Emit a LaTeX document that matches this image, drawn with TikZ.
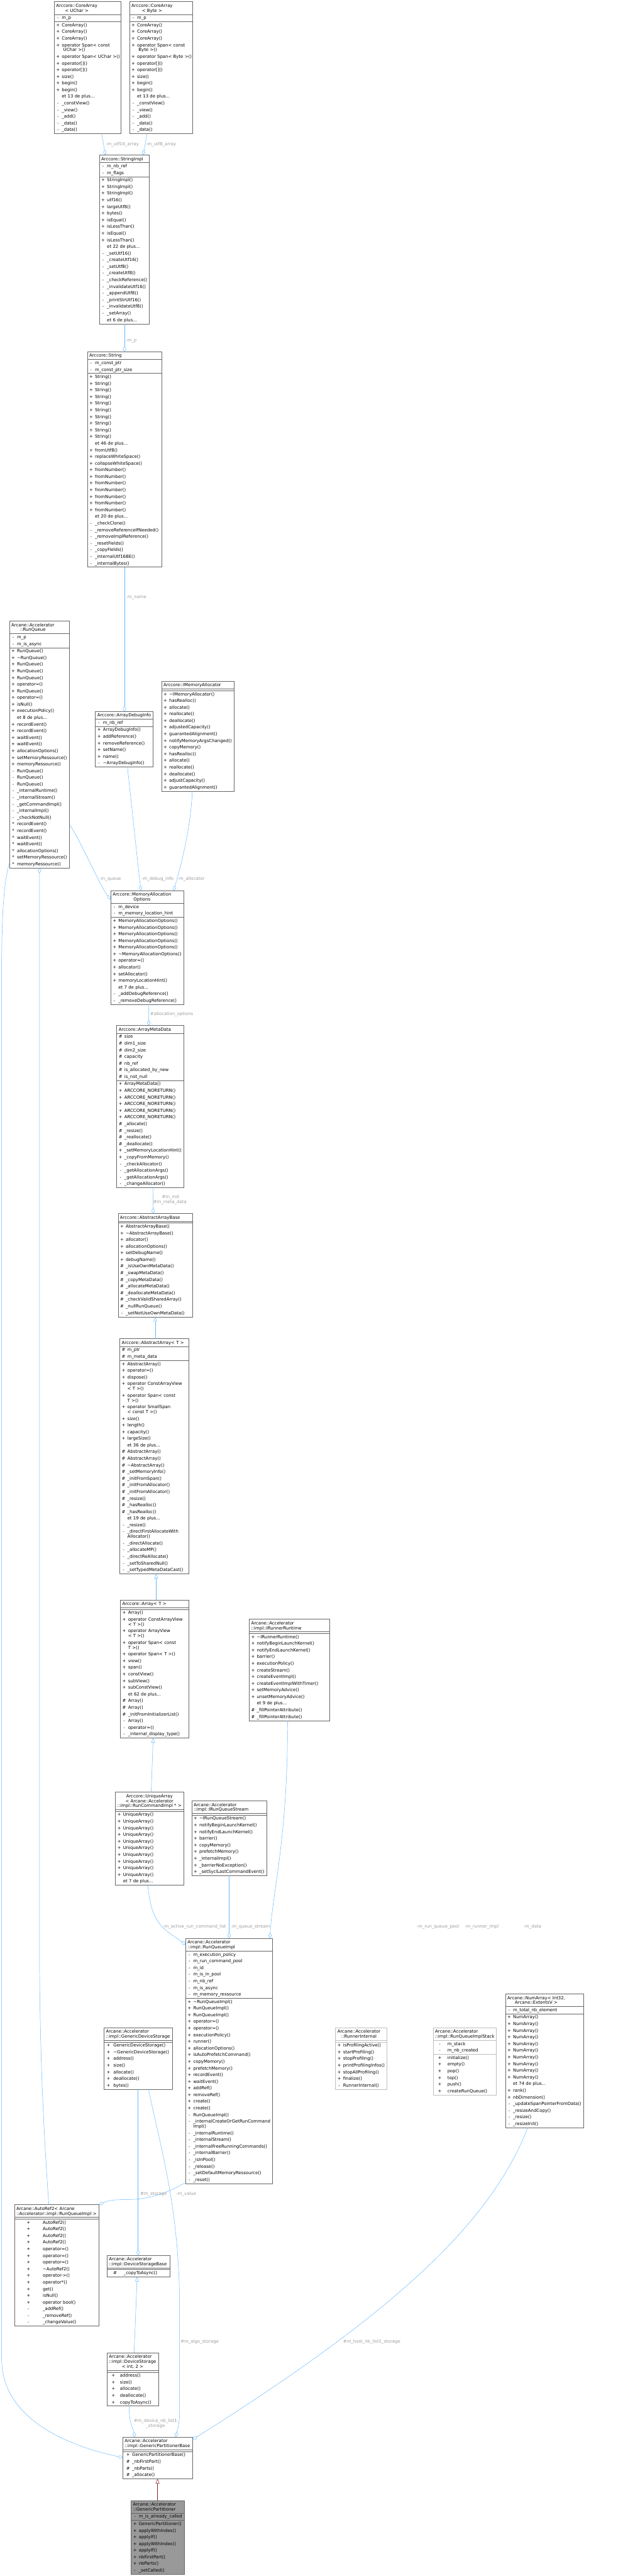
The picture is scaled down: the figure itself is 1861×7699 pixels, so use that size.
\documentclass[tikz,border=0pt]{standalone}
\usepackage{fontspec}
\setmainfont{DejaVu Sans}
\usepackage{array}
\usetikzlibrary{shapes.multipart,arrows.meta,calc}

\definecolor{edgeblue}{HTML}{63B8FF}
\definecolor{edgered}{HTML}{8B1A1A}
\definecolor{boxgray}{HTML}{666666}
\definecolor{lightbox}{HTML}{BFBFBF}
\definecolor{lblgray}{HTML}{9A9A9A}
\definecolor{focusfill}{HTML}{999999}

\newcommand\umlfont{\fontsize{13}{19.9}\selectfont}
\newcommand\tl{\textasciitilde}
\newcommand\br{\\[-5.2pt]}
% title block (c = centred lines, l = left block)
\newcommand\umltitle[2][c]{\centering\begin{tabular}{@{}#1@{}}\rule{0pt}{15.5pt}#2\end{tabular}}
\newcommand\umlrows[2][0pt]{\begin{tabular}{@{\hspace{#1}}w{c}{11pt}@{\hspace{6pt}}l@{}}#2\end{tabular}}
\newcommand\umlrowsw[3]{\begin{tabular}{@{\hspace{#1}}w{c}{11pt}@{\hspace{#2}}l@{}}#3\end{tabular}}
\newcommand\umlnone{\begin{tabular}{@{}l@{}}\end{tabular}}

\tikzset{
  umlclass/.style={rectangle split, rectangle split parts=3, draw=boxgray,
    line width=0.8pt, fill=white, anchor=north west, inner xsep=6pt,
    inner ysep=0.5pt, outer sep=0pt, align=left, font=\umlfont},
  uses/.style={draw=edgeblue, line width=0.9pt,
    -{Diamond[open, length=16pt, width=10pt]}},
  inh/.style={draw=edgeblue, line width=0.9pt,
    -{Triangle[open, length=14pt, width=11pt]}},
  privinh/.style={inh, draw=edgered},
  elabel/.style={font=\umlfont, text=lblgray, inner sep=0pt, anchor=west},
}

\begin{document}
\begin{tikzpicture}[x=1pt, y=-1pt]
\useasboundingbox (0,0) rectangle (1861,7699);

% ---- strings
\node[umlclass, text width=188pt] (caUChar) at (162,5) {\umltitle{Arccore::CoreArray\br < UChar >}
  \nodepart{two}\umlrows{- & m\_p}
  \nodepart{three}\umlrows{+ & CoreArray()\\ + & CoreArray()\\ + & CoreArray()\\
    + & operator Span< const\br & \ UChar >()\\ + & operator Span< UChar >()\\
    + & operator[]()\\ + & operator[]()\\ + & size()\\ + & begin()\\ + & begin()\\
    & et 13 de plus...\\ - & \_constView()\\ - & \_view()\\ - & \_add()\\
    - & \_data()\\ - & \_data()}};
\node[umlclass, text width=177pt] (caByte) at (387,5) {\umltitle{Arccore::CoreArray\br < Byte >}
  \nodepart{two}\umlrows{- & m\_p}
  \nodepart{three}\umlrows{+ & CoreArray()\\ + & CoreArray()\\ + & CoreArray()\\
    + & operator Span< const\br & \ Byte >()\\ + & operator Span< Byte >()\\
    + & operator[]()\\ + & operator[]()\\ + & size()\\ + & begin()\\ + & begin()\\
    & et 13 de plus...\\ - & \_constView()\\ - & \_view()\\ - & \_add()\\
    - & \_data()\\ - & \_data()}};
\node[umlclass, text width=137pt] (strImpl) at (297,463) {\umltitle{Arccore::StringImpl}
  \nodepart{two}\umlrows{- & m\_nb\_ref\\ - & m\_flags}
  \nodepart{three}\umlrows{+ & StringImpl()\\ + & StringImpl()\\ + & StringImpl()\\
    + & utf16()\\ + & largeUtf8()\\ + & bytes()\\ + & isEqual()\\ + & isLessThan()\\
    + & isEqual()\\ + & isLessThan()\\ & et 22 de plus...\\
    - & \_setUtf16()\\ - & \_createUtf16()\\ - & \_setUtf8()\\ - & \_createUtf8()\\
    - & \_checkReference()\\ - & \_invalidateUtf16()\\ - & \_appendUtf8()\\
    - & \_printStrUtf16()\\ - & \_invalidateUtf8()\\ - & \_setArray()\\
    & et 6 de plus...}};
\node[umlclass, text width=210pt] (string) at (261,1051) {\umltitle{Arccore::String}
  \nodepart{two}\umlrows{- & m\_const\_ptr\\ - & m\_const\_ptr\_size}
  \nodepart{three}\umlrows{+ & String()\\ + & String()\\ + & String()\\ + & String()\\
    + & String()\\ + & String()\\ + & String()\\ + & String()\\ + & String()\\
    + & String()\\ & et 46 de plus...\\ + & fromUtf8()\\ + & replaceWhiteSpace()\\
    + & collapseWhiteSpace()\\ + & fromNumber()\\ + & fromNumber()\\ + & fromNumber()\\
    + & fromNumber()\\ + & fromNumber()\\ + & fromNumber()\\ + & fromNumber()\\
    & et 20 de plus...\\ - & \_checkClone()\\ - & \_removeReferenceIfNeeded()\\
    - & \_removeImplReference()\\ - & \_resetFields()\\ - & \_copyFields()\\
    - & \_internalUtf16BE()\\ - & \_internalBytes()}};

% ---- run queue and allocation
\node[umlclass, text width=168pt] (runQueue) at (28,1856) {\umltitle{Arcane::Accelerator\br ::RunQueue}
  \nodepart{two}\umlrows{- & m\_p\\ - & m\_is\_async}
  \nodepart{three}\umlrows{+ & RunQueue()\\ + & \tl RunQueue()\\ + & RunQueue()\\
    + & RunQueue()\\ + & RunQueue()\\ + & operator=()\\ + & RunQueue()\\
    + & operator=()\\ + & isNull()\\ + & executionPolicy()\\ & et 8 de plus...\\
    + & recordEvent()\\ + & recordEvent()\\ + & waitEvent()\\ + & waitEvent()\\
    + & allocationOptions()\\ + & setMemoryRessource()\\ + & memoryRessource()\\
    - & RunQueue()\\ - & RunQueue()\\ - & RunQueue()\\ - & \_internalRuntime()\\
    - & \_internalStream()\\ - & \_getCommandImpl()\\ - & \_internalImpl()\\
    - & \_checkNotNull()\\ {*} & recordEvent()\\ {*} & recordEvent()\\
    {*} & waitEvent()\\ {*} & waitEvent()\\ {*} & allocationOptions()\\
    {*} & setMemoryRessource()\\ {*} & memoryRessource()}};
\node[umlclass, text width=161pt] (adi) at (285,2126) {\umltitle{Arccore::ArrayDebugInfo}
  \nodepart{two}\umlrows{- & m\_nb\_ref}
  \nodepart{three}\umlrows{+ & ArrayDebugInfo()\\ + & addReference()\\ + & removeReference()\\
    + & setName()\\ + & name()\\ - & \tl ArrayDebugInfo()}};
\node[umlclass, text width=204pt] (imalloc) at (483,2036) {\umltitle{Arccore::IMemoryAllocator}
  \nodepart{two}\umlnone
  \nodepart{three}\umlrows{+ & \tl IMemoryAllocator()\\ + & hasRealloc()\\ + & allocate()\\
    + & reallocate()\\ + & deallocate()\\ + & adjustedCapacity()\\
    + & guarantedAlignment()\\ + & notifyMemoryArgsChanged()\\ + & copyMemory()\\
    + & hasRealloc()\\ + & allocate()\\ + & reallocate()\\ + & deallocate()\\
    + & adjustCapacity()\\ + & guarantedAlignment()}};
\node[umlclass, text width=207pt] (mao) at (331,2662) {\umltitle{Arccore::MemoryAllocation\br Options}
  \nodepart{two}\umlrows{- & m\_device\\ - & m\_memory\_location\_hint}
  \nodepart{three}\umlrows{+ & MemoryAllocationOptions()\\ + & MemoryAllocationOptions()\\
    + & MemoryAllocationOptions()\\ + & MemoryAllocationOptions()\\
    + & MemoryAllocationOptions()\\ + & \tl MemoryAllocationOptions()\\
    + & operator=()\\ + & allocator()\\ + & setAllocator()\\ + & memoryLocationHint()\\
    & et 7 de plus...\\ - & \_addDebugReference()\\ - & \_removeDebugReference()}};

% ---- arrays
\node[umlclass, text width=189pt] (amd) at (349,3065) {\umltitle{Arccore::ArrayMetaData}
  \nodepart{two}\umlrows{\# & size\\ \# & dim1\_size\\ \# & dim2\_size\\ \# & capacity\\
    \# & nb\_ref\\ \# & is\_allocated\_by\_new\\ \# & is\_not\_null}
  \nodepart{three}\umlrows{+ & ArrayMetaData()\\ + & ARCCORE\_NORETURN()\\
    + & ARCCORE\_NORETURN()\\ + & ARCCORE\_NORETURN()\\ + & ARCCORE\_NORETURN()\\
    + & ARCCORE\_NORETURN()\\ \# & \_allocate()\\ \# & \_resize()\\
    \# & \_reallocate()\\ \# & \_deallocate()\\ + & \_setMemoryLocationHint()\\
    + & \_copyFromMemory()\\ - & \_checkAllocator()\\ - & \_getAllocationArgs()\\
    - & \_getAllocationArgs()\\ - & \_changeAllocator()}};
\node[umlclass, text width=210pt] (aab) at (353,3627) {\umltitle{Arccore::AbstractArrayBase}
  \nodepart{two}\umlnone
  \nodepart{three}\umlrows{+ & AbstractArrayBase()\\ + & \tl AbstractArrayBase()\\
    + & allocator()\\ + & allocationOptions()\\ + & setDebugName()\\ + & debugName()\\
    \# & \_isUseOwnMetaData()\\ \# & \_swapMetaData()\\ \# & \_copyMetaData()\\
    \# & \_allocateMetaData()\\ \# & \_deallocateMetaData()\\
    \# & \_checkValidSharedArray()\\ \# & \_nullRunQueue()\\
    - & \_setNotUseOwnMetaData()}};
\node[umlclass, text width=194pt] (aa) at (358,4001) {\umltitle{Arccore::AbstractArray< T >}
  \nodepart{two}\umlrows{\# & m\_ptr\\ \# & m\_meta\_data}
  \nodepart{three}\umlrows{+ & AbstractArray()\\ + & operator=()\\ + & dispose()\\
    + & operator ConstArrayView\br & < T >()\\ + & operator Span< const\br & T >()\\
    + & operator SmallSpan\br & < const T >()\\ + & size()\\ + & length()\\
    + & capacity()\\ + & largeSize()\\ & et 36 de plus...\\
    \# & AbstractArray()\\ \# & AbstractArray()\\ \# & \tl AbstractArray()\\
    \# & \_setMemoryInfo()\\ \# & \_initFromSpan()\\ \# & \_initFromAllocator()\\
    \# & \_initFromAllocator()\\ \# & \_resize()\\ \# & \_hasRealloc()\\
    \# & \_hasRealloc()\\ & et 19 de plus...\\ - & \_resize()\\
    - & \_directFirstAllocateWith\br & Allocator()\\ - & \_directAllocate()\\
    - & \_allocateMP()\\ - & \_directReAllocate()\\ - & \_setToSharedNull()\\
    - & \_setTypedMetaDataCast()}};
\node[umlclass, text width=192pt] (arr) at (360,4782) {\umltitle{Arccore::Array< T >}
  \nodepart{two}\umlnone
  \nodepart{three}\umlrows{+ & Array()\\ + & operator ConstArrayView\br & < T >()\\
    + & operator ArrayView\br & < T >()\\ + & operator Span< const\br & T >()\\
    + & operator Span< T >()\\ + & view()\\ + & span()\\ + & constView()\\
    + & subView()\\ + & subConstView()\\ & et 62 de plus...\\ \# & Array()\\
    \# & Array()\\ \# & \_initFromInitializerList()\\ - & Array()\\
    - & operator=()\\ - & \_internal\_display\_type()}};
\node[umlclass, text width=192pt] (ua) at (345,5356) {\umltitle{Arccore::UniqueArray\br < Arcane::Accelerator\br ::impl::RunCommandImpl * >}
  \nodepart{two}\umlnone
  \nodepart{three}\umlrows{+ & UniqueArray()\\ + & UniqueArray()\\ + & UniqueArray()\\
    + & UniqueArray()\\ + & UniqueArray()\\ + & UniqueArray()\\ + & UniqueArray()\\
    + & UniqueArray()\\ + & UniqueArray()\\ + & UniqueArray()\\ & et 7 de plus...}};

% ---- runtime
\node[umlclass, text width=228pt] (irr) at (745,4839) {\umltitle[l]{Arcane::Accelerator\br ::impl::IRunnerRuntime}
  \nodepart{two}\umlnone
  \nodepart{three}\umlrows{+ & \tl IRunnerRuntime()\\ + & notifyBeginLaunchKernel()\\
    + & notifyEndLaunchKernel()\\ + & barrier()\\ + & executionPolicy()\\
    + & createStream()\\ + & createEventImpl()\\ + & createEventImplWithTimer()\\
    + & setMemoryAdvice()\\ + & unsetMemoryAdvice()\\ & et 9 de plus...\\
    \# & \_fillPointerAttribute()\\ \# & \_fillPointerAttribute()}};
\node[umlclass, text width=212pt] (irqs) at (573,5382) {\umltitle[l]{Arcane::Accelerator\br ::impl::IRunQueueStream}
  \nodepart{two}\umlnone
  \nodepart{three}\umlrows{+ & \tl IRunQueueStream()\\ + & notifyBeginLaunchKernel()\\
    + & notifyEndLaunchKernel()\\ + & barrier()\\ + & copyMemory()\\
    + & prefetchMemory()\\ + & \_internalImpl()\\ + & \_barrierNoException()\\
    + & \_setSyclLastCommandEvent()}};
\node[umlclass, text width=248pt] (rqi) at (555,5793) {\umltitle[l]{Arcane::Accelerator\br ::impl::RunQueueImpl}
  \nodepart{two}\umlrows{- & m\_execution\_policy\\ - & m\_run\_command\_pool\\ - & m\_id\\
    - & m\_is\_in\_pool\\ - & m\_nb\_ref\\ - & m\_is\_async\\ - & m\_memory\_ressource}
  \nodepart{three}\umlrows{+ & \tl RunQueueImpl()\\ + & RunQueueImpl()\\ + & RunQueueImpl()\\
    + & operator=()\\ + & operator=()\\ + & executionPolicy()\\ + & runner()\\
    + & allocationOptions()\\ + & isAutoPrefetchCommand()\\ + & copyMemory()\\
    + & prefetchMemory()\\ + & recordEvent()\\ + & waitEvent()\\ + & addRef()\\
    + & removeRef()\\ + & create()\\ + & create()\\ - & RunQueueImpl()\\
    - & \_internalCreateOrGetRunCommand\br & Impl()\\ - & \_internalRuntime()\\
    - & \_internalStream()\\ - & \_internalFreeRunningCommands()\\
    - & \_internalBarrier()\\ - & \_isInPool()\\ - & \_release()\\
    - & \_setDefaultMemoryRessource()\\ - & \_reset()}};
\node[umlclass, draw=lightbox, text width=141pt] (rinternal) at (1003,6060) {\umltitle{Arcane::Accelerator\br ::RunnerInternal}
  \nodepart{two}\umlnone
  \nodepart{three}\umlrows{+ & isProfilingActive()\\ + & startProfiling()\\
    + & stopProfiling()\\ + & printProfilingInfos()\\ + & stopAllProfiling()\\
    + & finalize()\\ - & RunnerInternal()}};
\node[umlclass, draw=lightbox, text width=176pt] (rqis) at (1295,6060) {\umltitle[l]{Arcane::Accelerator\br ::impl::RunQueueImplStack}
  \nodepart{two}\umlrowsw{8.5pt}{17.5pt}{- & m\_stack\\ - & m\_nb\_created}
  \nodepart{three}\umlrowsw{8.5pt}{17.5pt}{+ & initialize()\\ + & empty()\\ + & pop()\\
    + & top()\\ + & push()\\ + & createRunQueue()}};
\node[umlclass, text width=222pt] (numarr) at (1511,5959) {\umltitle{Arcane::NumArray< Int32,\br Arcane::ExtentsV >}
  \nodepart{two}\umlrows{- & m\_total\_nb\_element}
  \nodepart{three}\umlrows{+ & NumArray()\\ + & NumArray()\\ + & NumArray()\\ + & NumArray()\\
    + & NumArray()\\ + & NumArray()\\ + & NumArray()\\ + & NumArray()\\ + & NumArray()\\
    + & NumArray()\\ & et 74 de plus...\\ + & rank()\\ + & nbDimension()\\
    - & \_updateSpanPointerFromData()\\ - & \_resizeAndCopy()\\ - & \_resize()\\
    - & \_resizeInit()}};

% ---- storages and partitioner
\node[umlclass, text width=193pt] (gds) at (311,6060) {\umltitle[l]{Arcane::Accelerator\br ::impl::GenericDeviceStorage}
  \nodepart{two}\umlnone
  \nodepart{three}\umlrowsw{2pt}{9pt}{+ & GenericDeviceStorage()\\ + & \tl GenericDeviceStorage()\\
    + & address()\\ + & size()\\ + & allocate()\\ + & deallocate()\\ + & bytes()}};
\node[umlclass, text width=241pt] (autoref) at (43,6589) {\umltitle[l]{Arcane::AutoRef2< Arcane\br ::Accelerator::impl::RunQueueImpl >}
  \nodepart{two}\umlnone
  \nodepart{three}\umlrowsw{30.5pt}{37.5pt}{+ & AutoRef2()\\ + & AutoRef2()\\ + & AutoRef2()\\
    + & AutoRef2()\\ + & operator=()\\ + & operator=()\\ + & operator=()\\
    + & \tl AutoRef2()\\ + & operator->()\\ + & operator*()\\ + & get()\\
    + & isNull()\\ + & operator bool()\\ - & \_addRef()\\ - & \_removeRef()\\
    - & \_changeValue()}};
\node[umlclass, text width=175pt] (dsb) at (320,6740) {\umltitle[l]{Arcane::Accelerator\br ::impl::DeviceStorageBase}
  \nodepart{two}\umlnone
  \nodepart{three}\umlrowsw{12.5pt}{20.5pt}{\# & \_copyToAsync()}};
\node[umlclass, text width=143pt] (ds) at (320,7032) {\umltitle[l]{Arcane::Accelerator\br ::impl::DeviceStorage\br \multicolumn{1}{@{}c@{}}{< int, 2 >}}
  \nodepart{two}\umlnone
  \nodepart{three}\umlrowsw{7.5pt}{14.5pt}{+ & address()\\ + & size()\\ + & allocate()\\
    + & deallocate()\\ + & copyToAsync()}};
\node[umlclass, text width=197pt] (gpb) at (367,7284) {\umltitle[l]{Arcane::Accelerator\br ::impl::GenericPartitionerBase}
  \nodepart{two}\umlnone
  \nodepart{three}\umlrowsw{4.5pt}{6.5pt}{+ & GenericPartitionerBase()\\ \# & \_nbFirstPart()\\
    \# & \_nbParts()\\ \# & \_allocate()}};
\node[umlclass, fill=focusfill, text width=148pt] (gp) at (392,7473) {\umltitle{Arcane::Accelerator\br ::GenericPartitioner}
  \nodepart{two}\umlrows{- & m\_is\_already\_called}
  \nodepart{three}\umlrows{+ & GenericPartitioner()\\ + & applyWithIndex()\\ + & applyIf()\\
    + & applyWithIndex()\\ + & applyIf()\\ + & nbFirstPart()\\ + & nbParts()\\
    - & \_setCalled()}};

% ---- connectors
\draw[uses] (caUChar.south -| 304,0) -- (strImpl.north -| 315,0);
\draw[uses] (caByte.south -| 440,0) -- (strImpl.north -| 428,0);
\draw[uses] (strImpl.south -| 372,0) -- (string.north -| 372,0);
\draw[uses] (string.south -| 372,0) -- (adi.north -| 372,0);
\draw[uses] (adi.south -| 381,0) -- (mao.north -| 421,0);
\draw[uses] (imalloc.south -| 575,0) .. controls (570,2480) and (540,2590) .. (mao.north -| 519,0);
\draw[uses] (runQueue.east |- 0,2464) .. controls (250,2530) and (300,2650) .. (mao.west |- 0,2688);
\draw[uses] (mao.south -| 444,0) -- (amd.north -| 445,0);
\draw[uses] (amd.south -| 457,0) -- (aab.north -| 458,0);
\draw[inh] (aa.north -| 464,0) -- (aab.south -| 464,0);
\draw[inh] (arr.north -| 467,0) -- (aa.south -| 467,0);
\draw[inh] (ua.north -| 452,0) -- (arr.south -| 458,0);
\draw[uses] (ua.south -| 442,0) .. controls (452,5760) and (500,5770) .. (rqi.west |- 0,5812);
\draw[uses] (irqs.south -| 685,0) -- (rqi.north -| 685,0);
\draw[uses] (irr.south -| 860,0) .. controls (860,5500) and (815,5650) .. (rqi.north -| 807,0);
\draw[uses] (rqi.west |- 0,6523) .. controls (420,6600) and (360,6560) .. (autoref.north east);
\draw[uses] (autoref.north -| 146,0) .. controls (125,6300) and (118,6050) .. (118,5800) -- (runQueue.south -| 118,0);
\draw[uses] (gds.south -| 413,0) -- (dsb.north -| 413,0);
\draw[inh] (ds.north -| 401,0) -- (dsb.south -| 410,0);
\draw[uses] (gds.south -| 444,0) .. controls (480,6420) and (537,6600) .. (537,6900) -- (537,7200) .. controls (537,7250) and (530,7262) .. (gpb.north -| 525,0);
\draw[uses] (ds.south -| 386,0) .. controls (386,7250) and (400,7260) .. (gpb.north -| 402,0);
\draw[uses] (runQueue.west |- 0,2580) .. controls (10,2640) and (5,2750) .. (5,2900) -- (5,7050) .. controls (5,7250) and (250,7320) .. (gpb.west |- 0,7345);
\draw[uses] (numarr.south -| 1578,0) .. controls (1468,6642) and (1183,6909) .. (gpb.east |- 0,7291);
\draw[privinh] (gp.north -| 471,0) -- (gpb.south -| 471,0);

% ---- connector labels
\node[elabel] (lUtf16) at (316,431) {-m\_utf16\_array};
\node[elabel] (lUtf8) at (436,431) {-m\_utf8\_array};
\node[elabel] (lStrP) at (376,1019) {-m\_p};
\node[elabel] (lName) at (377,1786) {-m\_name};
\node[elabel] (lQueue) at (297,2628) {-m\_queue};
\node[elabel] (lDebug) at (423,2628) {-m\_debug\_info};
\node[elabel] (lAlloc) at (531,2628) {-m\_allocator};
\node[elabel] (lAllocOpt) at (449,3031) {\#allocation\_options};
\node[elabel] (lMd) at (484,3579) {\#m\_md};
\node[elabel] (lMetaData) at (458,3594) {\#m\_meta\_data};
\node[elabel] (lActive) at (487,5759) {-m\_active\_run\_command\_list};
\node[elabel] (lStream) at (690,5759) {-m\_queue\_stream};
\node[elabel, anchor=east] (lPool) at (1373,5759) {-m\_run\_queue\_pool};
\node[elabel] (lRunnerImpl) at (1389,5759) {-m\_runner\_impl};
\node[elabel] (lData) at (1565,5759) {-m\_data};
\node[elabel] (lStorage) at (419,6557) {\#m\_storage};
\node[elabel] (lValue) at (527,6557) {-m\_value};
\node[elabel] (lAlgo) at (540,6999) {\#m\_algo\_storage};
\node[elabel, anchor=center, align=center] (lDevNb) at (465,7244) {\#m\_device\_nb\_list1\\[-5pt]\_storage};
\node[elabel] (lHostNb) at (1026,6999) {\#m\_host\_nb\_list1\_storage};
\end{tikzpicture}
\end{document}
